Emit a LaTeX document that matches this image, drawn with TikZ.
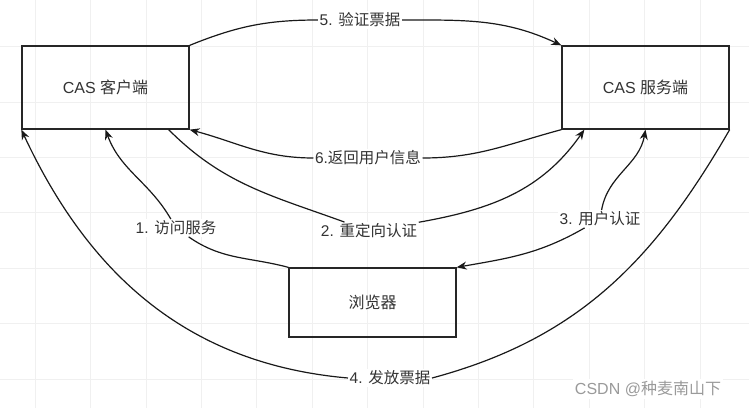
\documentclass[tikz,border=0pt]{standalone}
\usepackage{fontspec}
\setmainfont{Liberation Sans}
\newfontfamily\cjk{Noto Sans CJK SC}
\usepackage{tikz}
\usetikzlibrary{arrows.meta}
\definecolor{txtgray}{HTML}{333333}
\definecolor{wmgray}{HTML}{9A9A9A}

\begin{document}
\begin{tikzpicture}[x=1pt, y=1pt,
    box/.style={draw=black!85, line width=1.3pt, minimum width=167pt, minimum height=83pt,
      font=\fontsize{16}{19}\selectfont, text=txtgray},
    lbl/.style={fill=white, inner sep=1.5pt, font=\fontsize{15.5}{18}\selectfont, text=txtgray},
    flow/.style={line width=1.2pt, black!90, -{Stealth[length=10pt,width=8pt]}},
    plain/.style={line width=1.2pt, black!90}]
  \useasboundingbox[fill=white] (0,0) rectangle (749,408);
  % faint grid
  \foreach \i in {0,...,13} \draw[gray!12, line width=0.6pt] (35+55.4*\i,0) -- (35+55.4*\i,408);
  \foreach \j in {0,...,7} \draw[gray!12, line width=0.6pt] (0,361.6-55.4*\j) -- (749,361.6-55.4*\j);

  \node[box] (client) at (105.5,320.5) {CAS {\cjk 客户端}};
  \node[box] (server) at (645.5,320.5) {CAS {\cjk 服务端}};
  \node[box, minimum height=69pt] (browser) at (372.5,105.5) {{\cjk 浏览器}};

  \node[lbl] (l5) at (360,388) {5. {\cjk 验证票据}};
  \node[lbl] (l6) at (368,250) {6.{\cjk 返回用户信息}};
  \node[lbl] (l1) at (176,180) {1. {\cjk 访问服务}};
  \node[lbl] (l2) at (369,177) {2. {\cjk 重定向认证}};
  \node[lbl] (l3) at (600,189) {3. {\cjk 用户认证}};
  \node[lbl] (l4) at (390,30) {4. {\cjk 发放票据}};

  % 5 / 6
  \draw[plain] (client.north east) to[out=22, in=180] (l5.west);
  \draw[flow] (l5.east) to[out=0, in=155] (server.north west);
  \draw[plain] (server.south west) to[out=195, in=0] (l6.east);
  \draw[flow] (l6.west) to[out=180, in=-15] (client.south east);
  % 1 / 2
  \draw[plain] (browser.north west) to[out=165, in=-35] (l1);
  \draw[flow] (l1) to[out=120, in=-70] (client.south);
  \draw[plain] ([xshift=-21pt]client.south east) to[out=-45, in=160] (l2);
  \draw[flow] (l2) to[out=10, in=-125] ([xshift=23pt]server.south west);
  % 3
  \draw[flow] (l3) to[out=80, in=-100] (server.south);
  \draw[flow] (l3) to[out=-150, in=10] (browser.north east);
  % 4
  \draw[plain] (server.south east) to[out=-120, in=15] (l4.east);
  \draw[flow] (l4.west) to[out=175, in=-65] (client.south west);

  \node[fill=white, text=wmgray, font=\fontsize{16}{18}\selectfont, inner sep=2pt] (mark) at (648,19)
    {CSDN @{\cjk 种麦南山下}};
\end{tikzpicture}
\end{document}
